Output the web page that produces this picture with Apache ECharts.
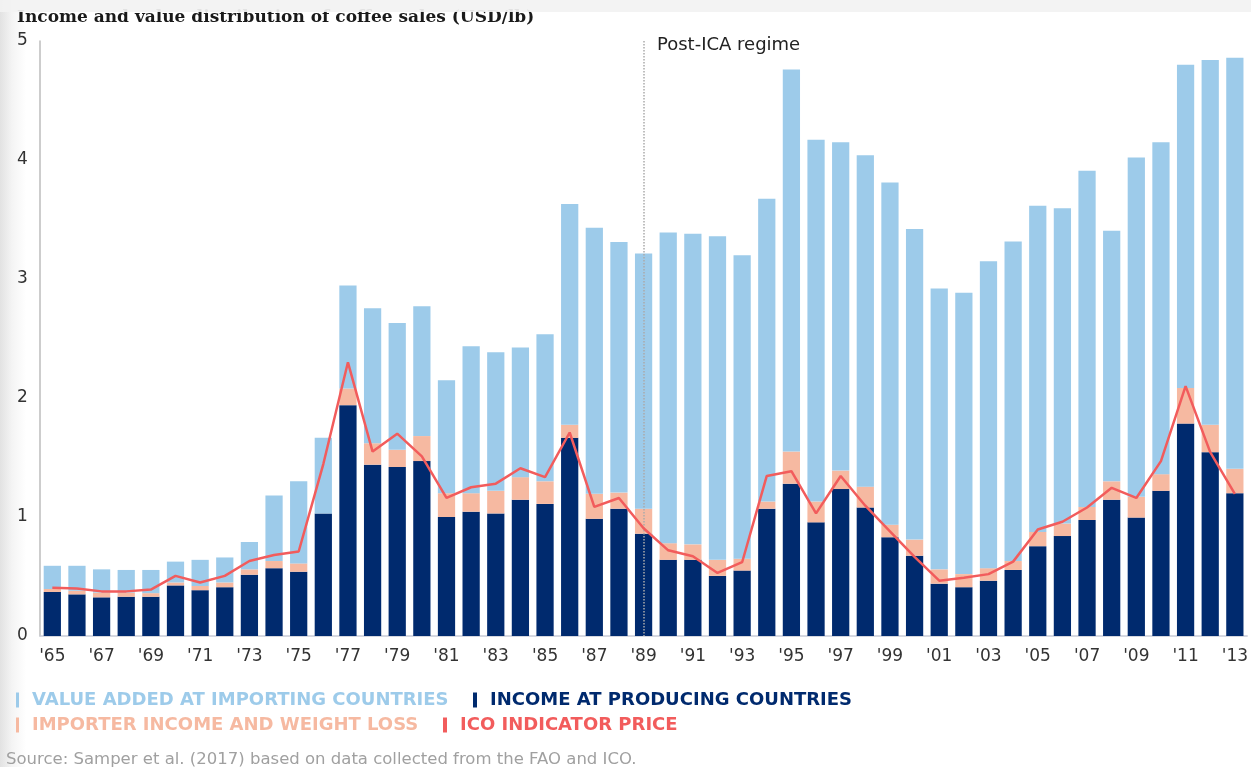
<!DOCTYPE html>
<html>
<head>
<meta charset="utf-8">
<script src="https://cdn.jsdelivr.net/npm/echarts@6/dist/echarts.min.js"></script>
<style>
html,body{margin:0;padding:0;width:1251px;height:767px;overflow:hidden;
background:linear-gradient(to right,#e2e2e2 0px,#f4f4f4 12px,#ffffff 26px);}
#c{width:1251px;height:767px;}
</style>
</head>
<body>
<div id="c"></div>
<script>
const years = ["'65","'66","'67","'68","'69","'70","'71","'72","'73","'74","'75","'76","'77","'78","'79","'80","'81","'82","'83","'84","'85","'86","'87","'88","'89","'90","'91","'92","'93","'94","'95","'96","'97","'98","'99","'00","'01","'02","'03","'04","'05","'06","'07","'08","'09","'10","'11","'12","'13"];
const producingIncome = [0.37,0.35,0.325,0.33,0.33,0.425,0.385,0.41,0.515,0.57,0.54,1.03,1.94,1.44,1.42,1.47,1.00,1.045,1.03,1.145,1.11,1.665,0.985,1.07,0.86,0.64,0.64,0.505,0.55,1.07,1.28,0.955,1.235,1.08,0.83,0.675,0.44,0.41,0.465,0.555,0.755,0.84,0.975,1.145,0.995,1.22,1.785,1.545,1.20];
const importerIncome = [0.025,0.03,0.04,0.035,0.03,0.025,0.035,0.04,0.045,0.06,0.07,0,0.14,0.18,0.145,0.21,0.20,0.155,0.19,0.19,0.19,0.11,0.21,0.135,0.21,0.14,0.13,0.135,0.10,0.06,0.27,0.175,0.155,0.175,0.105,0.135,0.12,0.11,0.105,0.075,0.12,0.105,0.11,0.155,0.175,0.14,0.30,0.23,0.205];
const valueAdded = [0.195,0.21,0.195,0.19,0.195,0.175,0.22,0.21,0.23,0.55,0.69,0.635,0.865,1.135,1.065,1.09,0.95,1.235,1.165,1.09,1.235,1.855,2.235,2.105,2.145,2.61,2.61,2.72,2.55,2.545,3.21,3.04,2.76,2.785,2.875,2.61,2.36,2.365,2.58,2.685,2.74,2.65,2.825,2.105,2.85,2.79,2.715,3.065,3.455];
const icoPrice = [0.405,0.40,0.375,0.375,0.39,0.505,0.45,0.505,0.63,0.68,0.71,1.445,2.30,1.55,1.70,1.51,1.16,1.25,1.28,1.41,1.335,1.71,1.085,1.16,0.905,0.72,0.67,0.53,0.62,1.345,1.385,1.03,1.345,1.095,0.88,0.665,0.465,0.49,0.52,0.625,0.895,0.96,1.08,1.245,1.16,1.47,2.10,1.545,1.195];
const yTicks = [0,1,2,3,4,5];

const NAVY = '#002a6e', SALMON = '#f6b9a1', LIGHT = '#9dcbea', RED = '#f25c5c';
const FONT = 'DejaVu Sans, Verdana, sans-serif';

const chart = echarts.init(document.getElementById('c'), null, {renderer:'canvas'});
const legendBase = (name, color, left, top, w) => ({
  data:[{name:name}], left:left, top:top, icon:'rect', itemWidth:w, itemHeight:15,
  selectedMode:false, padding:0,
  textStyle:{color:color, fontSize:18, fontWeight:'bold', fontFamily:FONT, padding:[0,0,0,8]}
});
chart.setOption({
  animation:false,
  title:{text:'Income and value distribution of coffee sales (USD/lb)', left:12, top:4,
    textStyle:{fontFamily:'DejaVu Serif, Liberation Serif, serif', fontWeight:'bold', fontSize:17, color:'#1a1a1a'}},
  grid:{left:40, right:3, top:41, bottom:131, containLabel:false},
  legend:[
    legendBase('VALUE ADDED AT IMPORTING COUNTRIES', LIGHT, 16, 691, 3),
    legendBase('INCOME AT PRODUCING COUNTRIES', NAVY, 473, 691, 4),
    legendBase('IMPORTER INCOME AND WEIGHT LOSS', SALMON, 16, 716, 3),
    legendBase('ICO INDICATOR PRICE', RED, 443, 716, 4)
  ],
  xAxis:{type:'category', data:years, boundaryGap:true,
    axisLine:{show:true, lineStyle:{color:'#c9ccd6', width:1.5}},
    axisTick:{show:false},
    axisLabel:{interval:1, color:'#333', fontSize:17, fontFamily:FONT, margin:12}},
  yAxis:{type:'value', min:0, max:5, interval:1,
    axisLine:{show:true, lineStyle:{color:'#bdbdbd', width:1.5}},
    axisTick:{show:false}, splitLine:{show:false},
    axisLabel:{color:'#333', fontSize:17, fontFamily:FONT, align:'left', margin:23,
      formatter:v => yTicks.includes(v) ? String(v) : ''}},
  graphic:[
    {type:'rect', left:0, top:0, z:100, shape:{width:1251, height:12},
      style:{fill:'rgba(242,242,242,0.93)'}},
    {type:'text', left:657, top:36, style:{text:'Post-ICA regime', fill:'#222', font:'18px ' + FONT}},
    {type:'text', left:6, top:751, style:{text:'Source: Samper et al. (2017) based on data collected from the FAO and ICO.', fill:'#a0a0a0', font:'16.5px ' + FONT}}
  ],
  series:[
    {name:'INCOME AT PRODUCING COUNTRIES', type:'bar', stack:'s', data:producingIncome,
      itemStyle:{color:NAVY}, barCategoryGap:'30%',
      markLine:{silent:true, symbol:'none', label:{show:false},
        lineStyle:{color:'#aaaaaa', type:'dotted', width:1.5},
        data:[[{xAxis:"'89", yAxis:5},{xAxis:"'89", yAxis:0}]]}},
    {name:'IMPORTER INCOME AND WEIGHT LOSS', type:'bar', stack:'s', data:importerIncome,
      itemStyle:{color:SALMON}},
    {name:'VALUE ADDED AT IMPORTING COUNTRIES', type:'bar', stack:'s', data:valueAdded,
      itemStyle:{color:LIGHT}},
    {name:'ICO INDICATOR PRICE', type:'line', data:icoPrice, symbol:'none', z:5,
      lineStyle:{color:RED, width:2.5}, itemStyle:{color:RED}}
  ]
});
</script>
</body>
</html>
